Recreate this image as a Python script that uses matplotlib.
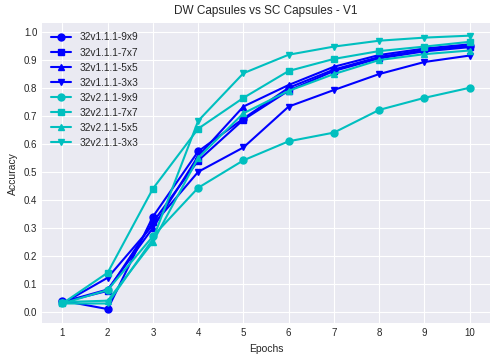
import numpy as np
import matplotlib
matplotlib.use("Agg")
import matplotlib.pyplot as plt

plt.style.use("seaborn-v0_8-darkgrid")

epochs = [1, 2, 3, 4, 5, 6, 7, 8, 9, 10]

# accuracy per epoch
v1_9x9 = [0.040, 0.010, 0.340, 0.573, 0.690, 0.800, 0.865, 0.910, 0.935, 0.950]
v1_7x7 = [0.035, 0.075, 0.320, 0.540, 0.686, 0.790, 0.860, 0.905, 0.930, 0.945]
v1_5x5 = [0.035, 0.080, 0.300, 0.556, 0.733, 0.810, 0.875, 0.917, 0.940, 0.955]
v1_3x3 = [0.030, 0.122, 0.310, 0.500, 0.587, 0.733, 0.792, 0.849, 0.892, 0.915]
v2_9x9 = [0.030, 0.078, 0.270, 0.443, 0.541, 0.609, 0.640, 0.721, 0.764, 0.800]
v2_7x7 = [0.030, 0.140, 0.440, 0.654, 0.764, 0.860, 0.903, 0.931, 0.947, 0.964]
v2_5x5 = [0.035, 0.040, 0.250, 0.550, 0.709, 0.789, 0.849, 0.899, 0.920, 0.933]
v2_3x3 = [0.030, 0.030, 0.260, 0.682, 0.852, 0.918, 0.947, 0.968, 0.979, 0.986]

series = [
    ("32v1.1.1-9x9", v1_9x9, "b", "o"),
    ("32v1.1.1-7x7", v1_7x7, "b", "s"),
    ("32v1.1.1-5x5", v1_5x5, "b", "^"),
    ("32v1.1.1-3x3", v1_3x3, "b", "v"),
    ("32v2.1.1-9x9", v2_9x9, "c", "o"),
    ("32v2.1.1-7x7", v2_7x7, "c", "s"),
    ("32v2.1.1-5x5", v2_5x5, "c", "^"),
    ("32v2.1.1-3x3", v2_3x3, "c", "v"),
]

fig, ax = plt.subplots(figsize=(4.95, 3.59), dpi=100)
for label, vals, col, mk in series:
    ax.plot(epochs, vals, color=col, marker=mk, markersize=5, linewidth=1.5, label=label)

ax.set_xticks(epochs)
ax.set_yticks(np.arange(0, 1.01, 0.1))
ax.set_ylim(-0.04, 1.03)
ax.tick_params(labelsize=7)
ax.set_xlabel("Epochs", fontsize=7.5)
ax.set_ylabel("Accuracy", fontsize=7.5)
ax.set_title("DW Capsules vs SC Capsules - V1", fontsize=8.5, pad=7)
ax.legend(loc="upper left", fontsize=7.3)

plt.subplots_adjust(left=0.085, right=0.99, top=0.935, bottom=0.10)
plt.savefig("out.png")
